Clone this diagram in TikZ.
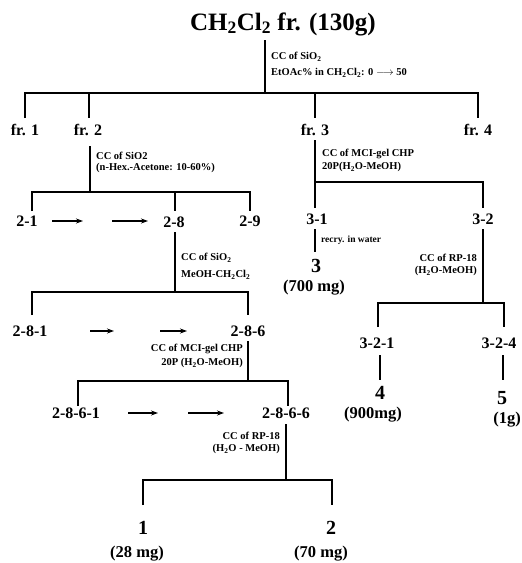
\documentclass[tikz,border=0pt]{standalone}
\usepackage{fontspec}
\setmainfont{Liberation Serif}
\usetikzlibrary{arrows.meta}
\begin{document}
\begin{tikzpicture}[x=1pt,y=-1pt,
  br/.style={line width=1.6pt},
  ttl/.style={font=\bfseries\fontsize{25}{28}\selectfont, inner sep=0pt},
  big/.style={font=\bfseries\fontsize{20}{23}\selectfont, inner sep=0pt},
  lab/.style={font=\bfseries\fontsize{16}{18}\selectfont, inner sep=0pt},
  amt/.style={font=\bfseries\fontsize{16.5}{18}\selectfont, inner sep=0pt},
  cc/.style={font=\bfseries\fontsize{10.5}{12}\selectfont, inner sep=0pt, anchor=west},
  ccr/.style={cc, anchor=east},
  arr/.style={line width=1.1pt, -{Stealth[length=7pt,width=5pt]}}]
\useasboundingbox (0,0) rectangle (522,563);

% ---- top ----
\node[ttl] (T) at (283,24) {CH\textsubscript{2}Cl\textsubscript{2} fr. (130g)};
\node[cc] (c1) at (271,57) {CC of SiO\textsubscript{2}};
\node[cc] (c2) at (271,73) {EtOAc\% in CH\textsubscript{2}Cl\textsubscript{2}: 0 $\longrightarrow$ 50};
\coordinate (t0) at (265,40);
\coordinate (j0) at (265,93);
\draw[br] (t0) -- (j0);
\draw[br] (25,118) -- (25,93) -- (478,93) -- (478,118);
\draw[br] (89,93) -- (89,118);
\draw[br] (315,93) -- (315,118);
\node[lab] (f1) at (25,130) {fr. 1};
\node[lab] (f2) at (88,130) {fr. 2};
\node[lab] (f3) at (315,130) {fr. 3};
\node[lab] (f4) at (478,130) {fr. 4};

% ---- fr. 2 branch ----
\draw[br] (90,146) -- (90,192);
\node[cc] (c3) at (96,156) {CC of SiO2};
\node[cc] (c4) at (96,168) {(n-Hex.-Acetone: 10-60\%)};
\draw[br] (32,211) -- (32,192) -- (250,192) -- (250,211);
\draw[br] (175,192) -- (175,211);
\node[lab] (n21) at (27,221) {2-1};
\node[lab] (n28) at (174,222) {2-8};
\node[lab] (n29) at (250,221) {2-9};
\coordinate (a1s) at (52,221); \coordinate (a1e) at (83,221);
\coordinate (a2s) at (112,221); \coordinate (a2e) at (148,221);
\draw[arr] (a1s) -- (a1e);
\draw[arr] (a2s) -- (a2e);

% ---- 2-8 branch ----
\draw[br] (175,232) -- (175,292);
\node[cc] (c5) at (181,258) {CC of SiO\textsubscript{2}};
\node[cc] (c6) at (181,275) {MeOH-CH\textsubscript{2}Cl\textsubscript{2}};
\draw[br] (32,315) -- (32,292) -- (248,292) -- (248,315);
\node[lab] (n281) at (30,331) {2-8-1};
\node[lab] (n286) at (248,331) {2-8-6};
\coordinate (b1s) at (90,331); \coordinate (b1e) at (114,331);
\coordinate (b2s) at (160,331); \coordinate (b2e) at (187,331);
\draw[arr] (b1s) -- (b1e);
\draw[arr] (b2s) -- (b2e);

% ---- 2-8-6 branch ----
\draw[br] (248,341) -- (248,381);
\node[ccr] (c7) at (243,349) {CC of MCI-gel CHP};
\node[ccr] (c8) at (243,363) {20P (H\textsubscript{2}O-MeOH)};
\draw[br] (78,406) -- (78,381) -- (288,381) -- (288,406);
\node[lab] (n2861) at (76,413) {2-8-6-1};
\node[lab] (n2866) at (286,413) {2-8-6-6};
\coordinate (d1s) at (128,413); \coordinate (d1e) at (158,413);
\coordinate (d2s) at (188,413); \coordinate (d2e) at (224,413);
\draw[arr] (d1s) -- (d1e);
\draw[arr] (d2s) -- (d2e);

% ---- 2-8-6-6 branch ----
\draw[br] (286,424) -- (286,480);
\node[ccr] (c9) at (280,436) {CC of RP-18};
\node[ccr] (c10) at (280,449) {(H\textsubscript{2}O - MeOH)};
\draw[br] (143,505) -- (143,480) -- (332,480) -- (332,505);
\node[big] (p1) at (143,528) {1};
\node[big] (p2) at (331,528) {2};
\node[amt] (m1) at (137,554) {(28 mg)};
\node[amt] (m2) at (321,554) {(70 mg)};

% ---- fr. 3 branch ----
\draw[br] (315,140) -- (315,208);
\node[cc] (c11) at (322,154) {CC of MCI-gel CHP};
\node[cc] (c12) at (322,167) {20P(H\textsubscript{2}O-MeOH)};
\draw[br] (315,182) -- (483,182) -- (483,208);
\node[lab] (n31) at (317,219) {3-1};
\node[lab] (n32) at (483,219) {3-2};
\draw[br] (315,229) -- (315,252);
\node[cc, font=\bfseries\fontsize{9.5}{11}\selectfont] (c13) at (321,240) {recry. in water};
\node[big] (p3) at (316,266) {3};
\node[amt] (m3) at (314,288) {(700 mg)};
\draw[br] (483,229) -- (483,303);
\node[ccr] (c14) at (477,258) {CC of RP-18};
\node[ccr] (c15) at (477,271) {(H\textsubscript{2}O-MeOH)};
\draw[br] (378,327) -- (378,303) -- (504,303) -- (504,327);
\node[lab] (n321) at (377,343) {3-2-1};
\node[lab] (n324) at (499,343) {3-2-4};
\draw[br] (380,355) -- (380,380);
\draw[br] (503,355) -- (503,380);
\node[big] (p4) at (380,393) {4};
\node[big] (p5) at (502,398) {5};
\node[amt] (m4) at (373,415) {(900mg)};
\node[amt] (m5) at (507,420) {(1g)};
\end{tikzpicture}
\end{document}
